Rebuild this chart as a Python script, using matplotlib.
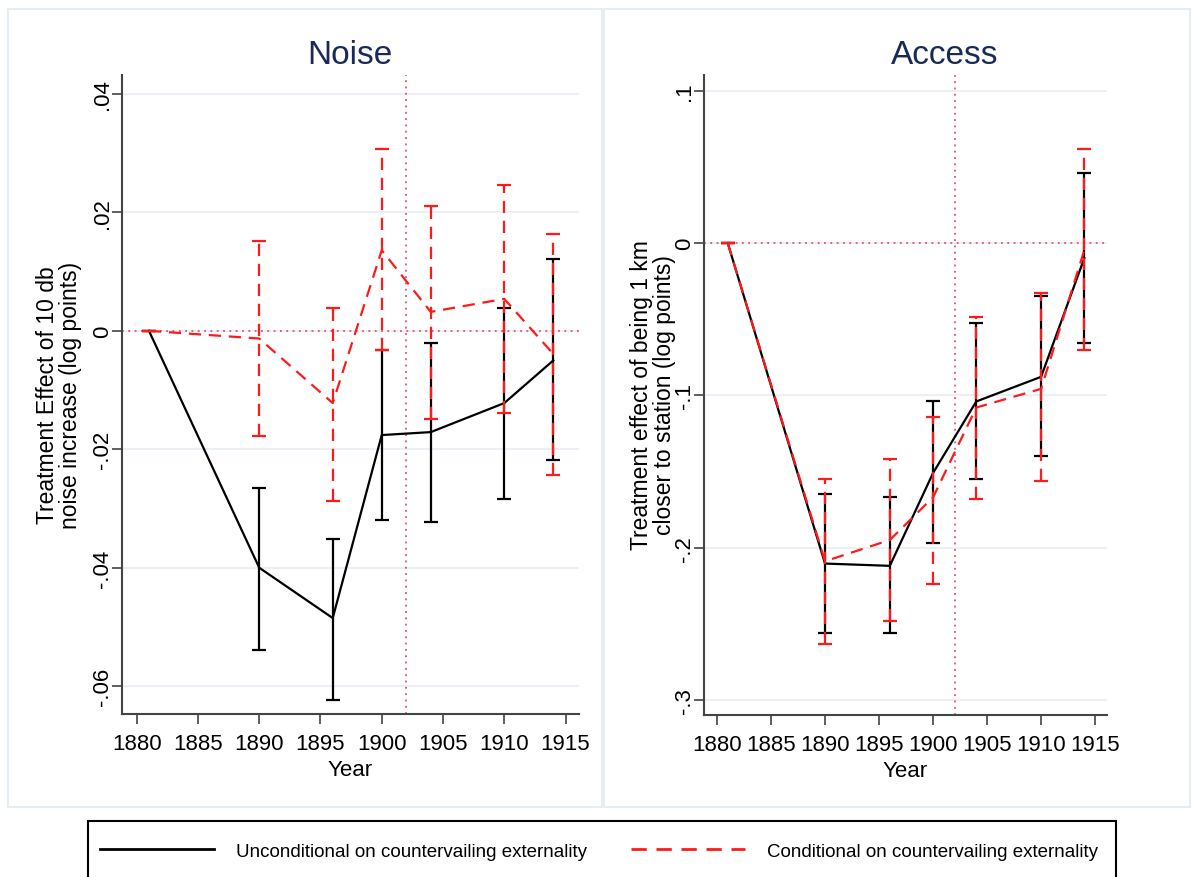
import matplotlib
matplotlib.use("Agg")
import matplotlib.pyplot as plt
from matplotlib.lines import Line2D
from matplotlib.patches import Rectangle
import numpy as np

plt.rcParams['font.family'] = ['Liberation Sans', 'DejaVu Sans']

# data
years = [1881, 1890, 1896, 1900, 1904, 1910, 1914]

noise_unc = [0, -0.0400, -0.0485, -0.0176, -0.0171, -0.0122, -0.0050]
noise_unc_hi = [0, -0.0265, -0.0351, -0.0032, -0.0020, 0.0039, 0.0121]
noise_unc_lo = [0, -0.0539, -0.0624, -0.0319, -0.0322, -0.0284, -0.0218]
noise_con = [0, -0.0013, -0.0122, 0.0136, 0.0032, 0.0054, -0.0039]
noise_con_hi = [0, 0.0151, 0.0039, 0.0307, 0.0210, 0.0247, 0.0163]
noise_con_lo = [0, -0.0178, -0.0287, -0.0032, -0.0149, -0.0139, -0.0243]

access_unc = [0, -0.2105, -0.2120, -0.1510, -0.1040, -0.0878, -0.0098]
access_unc_hi = [0, -0.1650, -0.1665, -0.1036, -0.0525, -0.0348, 0.0460]
access_unc_lo = [0, -0.2560, -0.2560, -0.1970, -0.1550, -0.1397, -0.0656]
access_con = [0, -0.2090, -0.1950, -0.1670, -0.1080, -0.0957, -0.0046]
access_con_hi = [0, -0.1550, -0.1417, -0.1141, -0.0485, -0.0328, 0.0616]
access_con_lo = [0, -0.2636, -0.2480, -0.2240, -0.1680, -0.1560, -0.0700]

xticks = [1880, 1885, 1890, 1895, 1900, 1905, 1910, 1915]
noise_yticks = [-0.06, -0.04, -0.02, 0, 0.02, 0.04]
noise_ylabels = ['-.06', '-.04', '-.02', '0', '.02', '.04']
access_yticks = [-0.3, -0.2, -0.1, 0, 0.1]
access_ylabels = ['-.3', '-.2', '-.1', '0', '.1']
treat_year = 1902

W, H = 1192, 878
fig = plt.figure(figsize=(W / 100, H / 100), dpi=100)
fig.patch.set_facecolor('white')

# panel frames
for x0, x1 in [(8, 602), (604, 1190)]:
    fig.patches.append(Rectangle((x0 / W, 1 - 808 / H), (x1 - x0) / W, 798 / H,
                                 transform=fig.transFigure, fill=False,
                                 edgecolor='#e6edf5', lw=1.5))

ax1 = fig.add_axes([122 / W, 1 - 715 / H, (579 - 122) / W, (715 - 76) / H])
ax2 = fig.add_axes([704 / W, 1 - 716 / H, (1107 - 704) / W, (716 - 76) / H])

red = '#ff1a1a'
dash = (0, (5.5, 3.5))


def draw(ax, y_u, hi_u, lo_u, y_c, hi_c, lo_c, yt, yl, ylim):
    yu = np.array(y_u)
    yc = np.array(y_c)
    ax.errorbar(years, yu, yerr=[yu - np.array(lo_u), np.array(hi_u) - yu],
                color='black', lw=1.6, capsize=5, capthick=1.6, elinewidth=1.6,
                zorder=3)
    eb2 = ax.errorbar(years, yc, yerr=[yc - np.array(lo_c), np.array(hi_c) - yc],
                      color=red, lw=1.6, ls=dash, capsize=5, capthick=1.6,
                      elinewidth=1.6, zorder=4)
    eb2[2][0].set_linestyle(dash)
    ax.axhline(0, color='#e0507a', lw=1.3, ls=(0, (1, 2.5)), zorder=2)
    ax.axvline(treat_year, color='#e0507a', lw=1.3, ls=(0, (1, 2.5)), zorder=2)
    ax.set_xlim(1878.8, 1916.1)
    ax.set_ylim(*ylim)
    ax.set_xticks(xticks)
    ax.set_yticks(yt)
    ax.set_yticklabels(yl, rotation=90, va='center')
    ax.grid(axis='y', color='#eaf0f6', lw=1.5, zorder=0)
    ax.set_axisbelow(True)
    for s in ['top', 'right']:
        ax.spines[s].set_visible(False)
    for s in ['left', 'bottom']:
        ax.spines[s].set_color('#444444')
        ax.spines[s].set_linewidth(1.5)
    ax.tick_params(axis='both', length=7, width=1.2, color='#444444',
                   labelsize=16, labelcolor='black')
    ax.tick_params(axis='x', pad=7)
    ax.tick_params(axis='y', pad=-0.5)
    ax.set_xlabel('Year', fontsize=16, labelpad=3)


draw(ax1, noise_unc, noise_unc_hi, noise_unc_lo, noise_con, noise_con_hi,
     noise_con_lo, noise_yticks, noise_ylabels, (-0.0647, 0.0432))
draw(ax2, access_unc, access_unc_hi, access_unc_lo, access_con, access_con_hi,
     access_con_lo, access_yticks, access_ylabels, (-0.31, 0.1105))

fig.text(59 / W, 1 - 395 / H, 'Treatment Effect of 10 db\nnoise increase (log points)',
         fontsize=16.5, rotation=90, ha='center', va='center', linespacing=0.95)
fig.text(653 / W, 1 - 395 / H, 'Treatment effect of being 1 km\ncloser to station (log points)',
         fontsize=16.5, rotation=90, ha='center', va='center', linespacing=0.95)

fig.text(350 / W, 1 - 55 / H, 'Noise', fontsize=24, color='#1a2a57',
         ha='center', va='center')
fig.text(945 / W, 1 - 55 / H, 'Access', fontsize=24, color='#1a2a57',
         ha='center', va='center')

# legend box (runs off the bottom edge like the original)
fig.patches.append(Rectangle((88 / W, 1 - 890 / H), (1116 - 88) / W, 68 / H,
                             transform=fig.transFigure, fill=False,
                             edgecolor='black', lw=1.5))
handles = [Line2D([], [], color='black', lw=2),
           Line2D([], [], color=red, lw=2, ls=dash)]
labels = ['Unconditional on countervailing externality',
          'Conditional on countervailing externality']
fig.legend(handles, labels, loc='center left',
           bbox_to_anchor=(100 / W, 1 - 852 / H),
           ncol=2, fontsize=13.5, handlelength=6.1, handletextpad=1.15,
           columnspacing=2.35, borderpad=0, borderaxespad=0, frameon=False)

fig.savefig('out.png', dpi=100)
